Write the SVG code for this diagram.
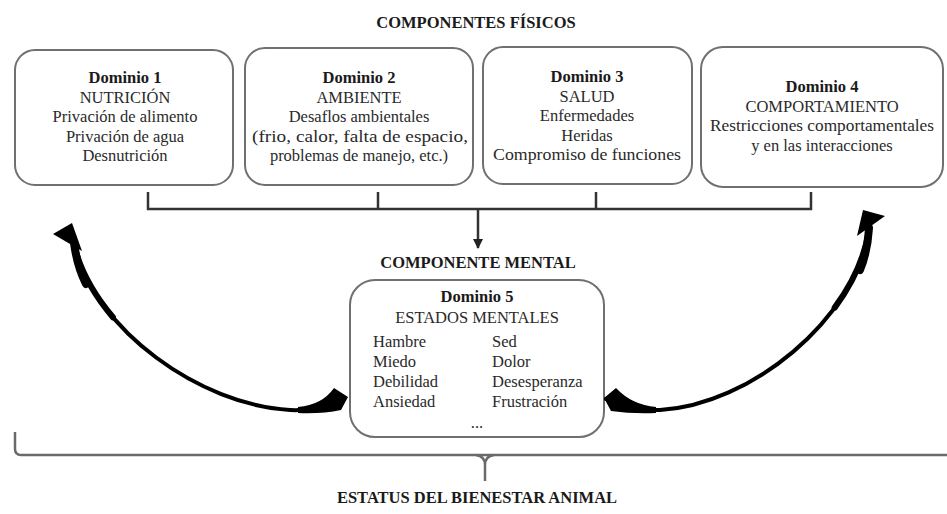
<svg xmlns="http://www.w3.org/2000/svg" width="947" height="514" viewBox="0 0 947 514">
<defs>
<style>
.box{fill:#fff;stroke:#707070;stroke-width:2}
.t{font-family:"Liberation Serif","Times New Roman",serif;font-size:16.5px;fill:#2a2a2a;text-anchor:middle}
.b{font-weight:bold;fill:#1a1a1a}
.l{text-anchor:start}
.h{font-family:"Liberation Serif","Times New Roman",serif;font-size:16.5px;font-weight:bold;fill:#1a1a1a;text-anchor:middle}
.ln{fill:none;stroke:#333;stroke-width:2.5}
.br{fill:none;stroke:#6a6a6a;stroke-width:2.5}
.cv{fill:none;stroke:#000;stroke-linecap:round}
.fk{fill:#000}
</style>
<marker id="ah" markerWidth="10" markerHeight="10" refX="9" refY="5" orient="auto" markerUnits="userSpaceOnUse" viewBox="0 0 10 10">
<path d="M0,0 L10,5 L0,10 Z" fill="#222"/>
</marker>
</defs>
<rect width="947" height="514" fill="#fff"/>

<text class="h" x="476" y="28">COMPONENTES FÍSICOS</text>
<text class="h" x="478" y="268">COMPONENTE MENTAL</text>
<text class="h" x="477" y="503">ESTATUS DEL BIENESTAR ANIMAL</text>

<g id="dominio1">
<rect class="box" x="15" y="50" width="218" height="135" rx="20"/>
<text class="t b" x="125" y="83">Dominio 1</text>
<text class="t" x="125" y="102.5">NUTRICIÓN</text>
<text class="t" x="125" y="122">Privación de alimento</text>
<text class="t" x="125" y="141.5">Privación de agua</text>
<text class="t" x="125" y="161">Desnutrición</text>
</g>

<g id="dominio2">
<rect class="box" x="245" y="48" width="228" height="137" rx="20"/>
<text class="t b" x="359" y="83">Dominio 2</text>
<text class="t" x="359" y="102.5">AMBIENTE</text>
<text class="t" x="359" y="122">Desaflos ambientales</text>
<text class="t" x="360" y="141.5" textLength="216" lengthAdjust="spacingAndGlyphs">(frio, calor, falta de espacio,</text>
<text class="t" x="359" y="161">problemas de manejo, etc.)</text>
</g>

<g id="dominio3">
<rect class="box" x="483" y="47" width="209" height="137" rx="20"/>
<text class="t b" x="587" y="82">Dominio 3</text>
<text class="t" x="587" y="101.5">SALUD</text>
<text class="t" x="587" y="121">Enfermedades</text>
<text class="t" x="587" y="140.5">Heridas</text>
<text class="t" x="587" y="160" textLength="188" lengthAdjust="spacingAndGlyphs">Compromiso de funciones</text>
</g>

<g id="dominio4">
<rect class="box" x="701" y="47" width="242" height="140" rx="22"/>
<text class="t b" x="822" y="92">Dominio 4</text>
<text class="t" x="822" y="111.5">COMPORTAMIENTO</text>
<text class="t" x="822" y="131" textLength="224" lengthAdjust="spacingAndGlyphs">Restricciones comportamentales</text>
<text class="t" x="822" y="150.5">y en las interacciones</text>
</g>

<g id="dominio5">
<rect class="box" x="350" y="280" width="254" height="157" rx="25"/>
<text class="t b" x="477" y="302">Dominio 5</text>
<text class="t" x="477" y="323">ESTADOS MENTALES</text>
<text class="t l" x="373" y="347">Hambre</text>
<text class="t l" x="373" y="367">Miedo</text>
<text class="t l" x="373" y="387">Debilidad</text>
<text class="t l" x="373" y="407">Ansiedad</text>
<text class="t l" x="492" y="347">Sed</text>
<text class="t l" x="492" y="367">Dolor</text>
<text class="t l" x="492" y="387">Desesperanza</text>
<text class="t l" x="492" y="407">Frustración</text>
<text class="t" x="477" y="428">...</text>
</g>

<g id="connectors">
<path class="ln" d="M148,192 V209 H811 V192 M378,192 V209 M596,192 V209"/>
<path class="ln" d="M478,209 V248" marker-end="url(#ah)"/>

<g id="arrow-left">
<path class="cv" stroke-width="4" d="M74,245 C95,330 200,405 290,410 C312,411 330,406 344,398"/>
<path class="cv" stroke-width="6" d="M74,245 C80.3,270.5 94.2,295.1 112.9,317.2"/>
<path class="cv" stroke-width="8" d="M74,243 C76,258 80,272 86,284"/>
<path class="fk" d="M334,388 L348,397 L341,410 Q322,414 298,413 L298,407 Q322,405 334,388 Z"/>
<path class="fk" d="M53,234 L72,223 L82,251 Z"/>
</g>

<g id="arrow-right">
<path class="cv" stroke-width="4" d="M869,230 C855,320 750,405 660,410 C640,411 622,406 606,399"/>
<path class="cv" stroke-width="6" d="M869,230 C864.8,257 852.4,283.6 834.7,307.6"/>
<path class="cv" stroke-width="8" d="M869,228 C868,244 865,258 860,270"/>
<path class="fk" d="M616,388 L604,398 L611,411 Q632,414 656,413 L656,407 Q632,405 616,388 Z"/>
<path class="fk" d="M863,210 L885,216 L857,236 Z"/>
</g>

<path class="br" d="M15,432 V449 Q15,455 21,455 H947"/>
<path class="br" d="M476,455 Q485,456 485,465 V481 M494,455 Q485,456 485,465"/>
</g>
</svg>
